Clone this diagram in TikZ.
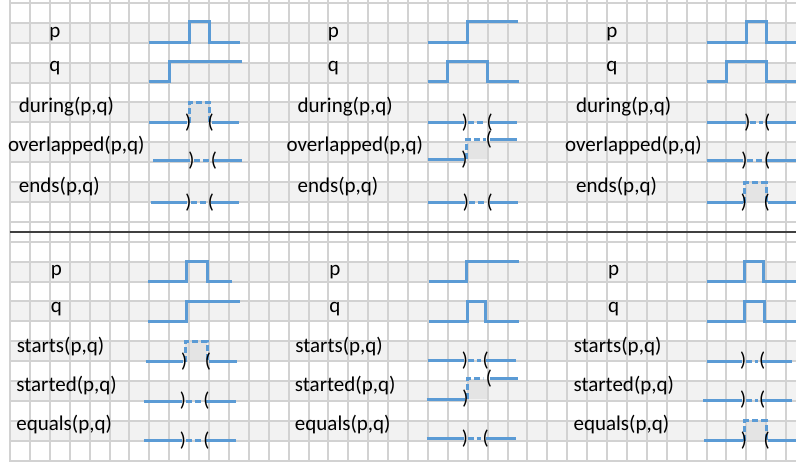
\documentclass[tikz,border=0pt]{standalone}
\usepackage{fontspec}
\setmainfont{Carlito}
\definecolor{waveblue}{RGB}{91,155,213}
\definecolor{stripe}{RGB}{242,242,242}
\definecolor{holdcell}{RGB}{228,228,228}
\definecolor{cellline}{RGB}{210,210,210}
\tikzset{
  wave/.style={waveblue, line width=1.5pt},
  gap/.style={waveblue, line width=1.5pt, dash pattern=on 3pt off 1.5pt},
  lab/.style={inner sep=0pt},
  brk/.style={inner sep=0pt, text=black, font=\fontsize{10}{12}\selectfont},
}
\begin{document}
\begin{tikzpicture}[x=9.95pt, y=9.95pt, font=\fontsize{10.5}{12.6}\selectfont]
  \useasboundingbox (-0.5025,0.1508) rectangle (39.497,-23.065);
  \foreach \r in {1,3,5,7,9,13,15,17,19,21}
    \fill[stripe] (0,-\r) rectangle (39.5,-\r-1);
  \foreach \xa/\xb/\ya/\yb in {9/10/-6/-5, 23/24/-7.85/-6.93, 37/38/-10/-9,
      8.8/9.9/-18/-17, 23/24/-19.9/-18.91, 36.93/37.99/-22/-21}
    \fill[holdcell] (\xa,\ya) rectangle (\xb,\yb);
  \foreach \k in {0,...,23} \draw[cellline, line width=1pt] (0,-\k) -- (39.5,-\k);
  \foreach \k in {0,...,39} \draw[cellline, line width=1pt] (\k,0.16) -- (\k,-23.07);
  \draw[black!75, line width=1.3pt] (0,-11.5) -- (39.5,-11.5);

  \foreach \s [count=\i] in {0,14,28} {
    \node[lab, anchor=base] (ptop\i) at (2.25+\s,-1.72) {p};
    \node[lab, anchor=base] (qtop\i) at (2.25+\s,-3.45) {q};
    \node[lab, anchor=base west] (during\i) at (0.43+\s,-5.49) {during(p,q)};
    \node[lab, anchor=base west] (overlapped\i) at (-0.12+\s,-7.47) {overlapped(p,q)};
    \node[lab, anchor=base west] (ends\i) at (0.43+\s,-9.53) {ends(p,q)};
    \node[lab, anchor=base] (pbot\i) at (2.33+\s,-13.67) {p};
    \node[lab, anchor=base] (qbot\i) at (2.33+\s,-15.53) {q};
    \node[lab, anchor=base west] (starts\i) at (0.32+\s,-17.55) {starts(p,q)};
    \node[lab, anchor=base west] (started\i) at (0.3+\s,-19.5) {started(p,q)};
    \node[lab, anchor=base west] (equals\i) at (0.3+\s,-21.5) {equals(p,q)};
  }

  % p and q
  \draw[wave] (7,-1.97) -- (9,-1.97) -- (9,-0.95) -- (10,-0.95) -- (10,-1.97) -- (11.55,-1.97);
  \draw[wave] (21,-1.97) -- (23,-1.97) -- (23,-0.95) -- (25.55,-0.95);
  \draw[wave] (35,-1.97) -- (37,-1.97) -- (37,-0.95) -- (38,-0.95) -- (38,-1.97) -- (39.5,-1.97);
  \draw[wave] (7,-3.95) -- (8,-3.95) -- (8,-2.95) -- (11.65,-2.95);
  \draw[wave] (21,-3.95) -- (22,-3.95) -- (22,-2.95) -- (24,-2.95) -- (24,-3.95) -- (25.6,-3.95);
  \draw[wave] (35,-3.95) -- (36,-3.95) -- (36,-2.95) -- (38,-2.95) -- (38,-3.95) -- (39.5,-3.95);
  \draw[wave] (6.95,-14) -- (8.85,-14) -- (8.85,-13) -- (9.9,-13) -- (9.9,-14) -- (11.15,-14);
  \draw[wave] (21.05,-14) -- (22.95,-14) -- (22.95,-13) -- (25.6,-13);
  \draw[wave] (35.03,-14) -- (36.9,-14) -- (36.9,-13) -- (37.85,-13) -- (37.85,-14) -- (39.5,-14);
  \draw[wave] (6.95,-16) -- (8.85,-16) -- (8.85,-15) -- (11.55,-15);
  \draw[wave] (21.05,-16) -- (23,-16) -- (23,-15) -- (23.9,-15) -- (23.9,-16) -- (25.6,-16);
  \draw[wave] (35.03,-16) -- (36.93,-16) -- (36.93,-15) -- (37.9,-15) -- (37.9,-16) -- (39.5,-16);

  % relation does not hold
  \foreach \y/\xs/\xb/\xc/\xe [count=\i] in {
      -6.02/21/22.8/24.1/25.5, -6.02/35/37/38.05/39.5,
      -7.9/7.2/9.05/10.25/11.65, -7.9/35/36.85/38.05/39.5,
      -10.03/7.08/8.9/10.1/11.5, -10.03/21/22.85/24.1/25.55,
      -17.97/21/22.8/23.9/25.41, -17.99/35/36.78/37.8/39.3,
      -20/6.73/8.63/9.87/11.36, -19.95/34.83/36.78/37.8/39.3,
      -22/6.73/8.63/9.87/11.36, -21.9/20.94/22.8/23.9/25.41} {
    \draw[wave] (\xs,\y) -- (\xb,\y);
    \draw[gap] (\xb+0.2,\y) -- (\xc-0.22,\y);
    \draw[wave] (\xc,\y) -- (\xe,\y);
    \node[brk] (cl\i) at (\xb+0.06,\y) {)};
    \node[brk] (op\i) at (\xc,\y) {(};
  }
  % relation holds, raised box
  \foreach \y/\xs/\xb/\xc/\xe [count=\i] in {
      -6.02/7/9/10.05/11.5, -10.03/35/36.93/37.99/39.5,
      -18.02/6.82/8.8/9.91/11.39, -22/34.88/36.93/37.99/39.5} {
    \draw[wave] (\xs,\y) -- (\xb-0.1,\y);
    \draw[gap] (\xb,\y) -- (\xb,\y+1) -- (\xc,\y+1) -- (\xc,\y);
    \draw[wave] (\xc+0.08,\y) -- (\xe,\y);
    \node[brk] (bcl\i) at (\xb-0.05,\y) {)};
    \node[brk] (bop\i) at (\xc+0.03,\y) {(};
  }
  % relation holds, raised step
  \foreach \yl/\yh/\xs/\xb/\xt/\xc/\xe [count=\i] in {
      -7.85/-6.88/21/22.8/23.9/24.07/25.48,
      -19.9/-18.88/20.94/22.86/23.77/24.07/25.53} {
    \draw[wave] (\xs,\yl) -- (\xb,\yl);
    \draw[gap] (\xb+0.12,\yl) -- (\xb+0.12,\yh) -- (\xt,\yh);
    \draw[wave] (\xc+0.05,\yh) -- (\xe,\yh);
    \node[brk] (scl\i) at (\xb+0.03,\yl) {)};
    \node[brk] (sop\i) at (\xc,\yh) {(};
  }
\end{tikzpicture}
\end{document}
